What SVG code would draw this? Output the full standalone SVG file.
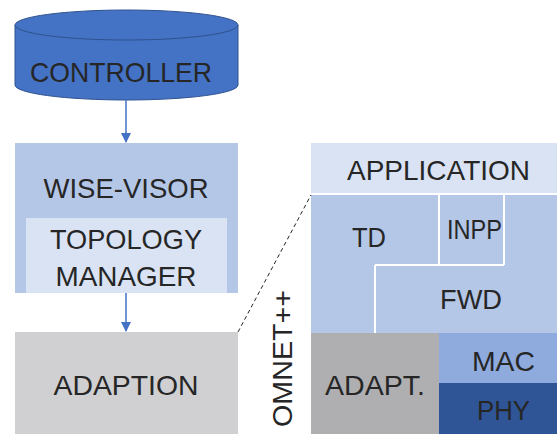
<svg xmlns="http://www.w3.org/2000/svg" width="557" height="434" viewBox="0 0 557 434">
  <defs>
    <marker id="arrow" markerWidth="10" markerHeight="10" refX="9" refY="5" orient="auto" markerUnits="userSpaceOnUse">
      <path d="M0,0 L10,5 L0,10 z" fill="#4472C4"/>
    </marker>
  </defs>
  <style>
    text { font-family: "Liberation Sans", "DejaVu Sans", sans-serif; fill: #262626; font-size: 28px; text-anchor: middle; }
    .conn { stroke: #4472C4; stroke-width: 1.5; fill: none; }
    .sep { stroke: #FFFFFF; stroke-width: 2; fill: none; }
  </style>
  <rect width="557" height="434" fill="#FFFFFF"/>

  <!-- controller cylinder -->
  <g id="controller">
    <path d="M15,25 L15,85 A111.5,15 0 0 0 238,85 L238,25" fill="#4472C4" stroke="#2F528F" stroke-width="1"/>
    <ellipse cx="126.5" cy="25" rx="111.5" ry="15" fill="#4472C4" stroke="#2F528F" stroke-width="1"/>
    <text x="121" y="82" textLength="182" lengthAdjust="spacingAndGlyphs">CONTROLLER</text>
  </g>

  <!-- wise-visor block -->
  <g id="wise-visor">
    <rect x="15" y="143" width="223" height="150" fill="#B4C7E7"/>
    <text x="126" y="198" textLength="165" lengthAdjust="spacingAndGlyphs">WISE-VISOR</text>
  </g>
  <g id="topology-manager">
    <rect x="26" y="218" width="201" height="75" fill="#DAE3F3"/>
    <text x="126" y="249" textLength="152" lengthAdjust="spacingAndGlyphs">TOPOLOGY</text>
    <text x="126" y="286" textLength="141" lengthAdjust="spacingAndGlyphs">MANAGER</text>
  </g>

  <!-- adaption block -->
  <g id="adaption">
    <rect x="15" y="332" width="223" height="102" fill="#D0D0D2"/>
    <text x="126" y="395" textLength="145" lengthAdjust="spacingAndGlyphs">ADAPTION</text>
  </g>

  <!-- protocol stack -->
  <g id="application">
    <rect x="311" y="143" width="246" height="51" fill="#DAE3F3"/>
    <text x="438.5" y="180" textLength="183" lengthAdjust="spacingAndGlyphs">APPLICATION</text>
  </g>
  <g id="td">
    <rect x="311" y="195" width="246" height="138" fill="#B4C7E7"/>
    <text x="369" y="247" textLength="34" lengthAdjust="spacingAndGlyphs">TD</text>
  </g>
  <g id="inpp">
    <text x="474.5" y="239" textLength="55" lengthAdjust="spacingAndGlyphs">INPP</text>
  </g>
  <g id="fwd">
    <text x="471" y="309" textLength="62" lengthAdjust="spacingAndGlyphs">FWD</text>
  </g>
  <g id="adapt">
    <rect x="311" y="333" width="128" height="101" fill="#AFAFB2"/>
    <text x="375" y="395" textLength="100" lengthAdjust="spacingAndGlyphs">ADAPT.</text>
  </g>
  <g id="mac">
    <rect x="439" y="333" width="118" height="50" fill="#8FAADC"/>
    <text x="503.5" y="371" textLength="63" lengthAdjust="spacingAndGlyphs">MAC</text>
  </g>
  <g id="phy">
    <rect x="439" y="383" width="118" height="51" fill="#2F5597"/>
    <text x="503.5" y="420" textLength="53" lengthAdjust="spacingAndGlyphs">PHY</text>
  </g>

  <!-- simulator label -->
  <g id="omnet">
    <text transform="translate(292,358.5) rotate(-90)" textLength="137" lengthAdjust="spacingAndGlyphs">OMNET++</text>
  </g>

  <!-- connectors and separators -->
  <g id="connectors">
    <line class="conn" x1="126" y1="100" x2="126" y2="142" marker-end="url(#arrow)"/>
    <line class="conn" x1="126" y1="293" x2="126" y2="331" marker-end="url(#arrow)"/>
    <line x1="238" y1="332" x2="311" y2="195" stroke="#262626" stroke-width="1" stroke-dasharray="4,3"/>
    <line class="sep" x1="311" y1="194" x2="557" y2="194"/>
    <path class="sep" d="M439,195 L439,265 M504,195 L504,265 M375,265 L504,265 M375,265 L375,333"/>
  </g>
</svg>
